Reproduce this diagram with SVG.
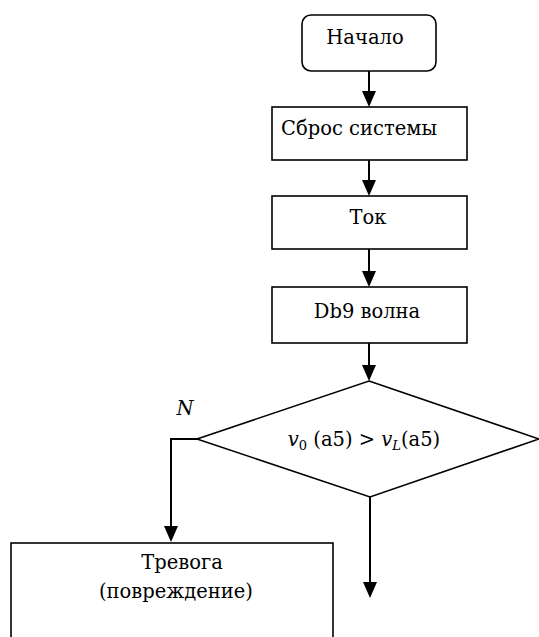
<svg xmlns="http://www.w3.org/2000/svg" width="539" height="637" viewBox="0 0 539 637">
<style>
.box{fill:#fff;stroke:#000;stroke-width:1.6}
.c{fill:none;stroke:#000;stroke-width:2}
text{font-family:"DejaVu Serif","Liberation Serif",serif;font-size:19.5px;fill:#000;text-anchor:middle}
.i{font-style:italic}
.s{font-size:13px}
</style>
<g id="connectors">
<path class="c" d="M369,71 L369,91"/><path d="M362,91 L376,91 L369,107 Z"/>
<path class="c" d="M369,160 L369,180"/><path d="M362,180 L376,180 L369,196 Z"/>
<path class="c" d="M369,249 L369,271"/><path d="M362,271 L376,271 L369,287 Z"/>
<path class="c" d="M369,343 L369,365"/><path d="M362,365 L376,365 L369,381 Z"/>
<path class="c" d="M197,439 L171,439 L171,526"/><path d="M164,526 L178,526 L171,542 Z"/>
<path class="c" d="M370,497 L370,582"/><path d="M363,582 L377,582 L370,598 Z"/>
</g>
<g id="start">
<rect class="box" x="302" y="15" width="134" height="56" rx="9"/>
<text x="365" y="44">Начало</text>
</g>
<g id="reset">
<rect class="box" x="272" y="107" width="195" height="53"/>
<text x="359" y="135">Сброс системы</text>
</g>
<g id="tok">
<rect class="box" x="272" y="196" width="195" height="53"/>
<text x="368" y="224">Ток</text>
</g>
<g id="db9">
<rect class="box" x="272" y="287" width="195" height="56"/>
<text x="367" y="318">Db9 волна</text>
</g>
<g id="decision">
<polygon class="box" points="369,381 539,439 370,497 197,439"/>
<text x="364" y="446"><tspan class="i">v</tspan><tspan class="s" dy="4">0</tspan><tspan dy="-4"> (a5) &gt; </tspan><tspan class="i">v</tspan><tspan class="s i" dy="4">L</tspan><tspan dy="-4">(a5)</tspan></text>
<text class="i" x="185" y="415">N</text>
</g>
<g id="alarm">
<rect class="box" x="11" y="543" width="322" height="100"/>
<text x="182" y="569">Тревога</text>
<text x="176" y="598">(повреждение)</text>
</g>
</svg>
